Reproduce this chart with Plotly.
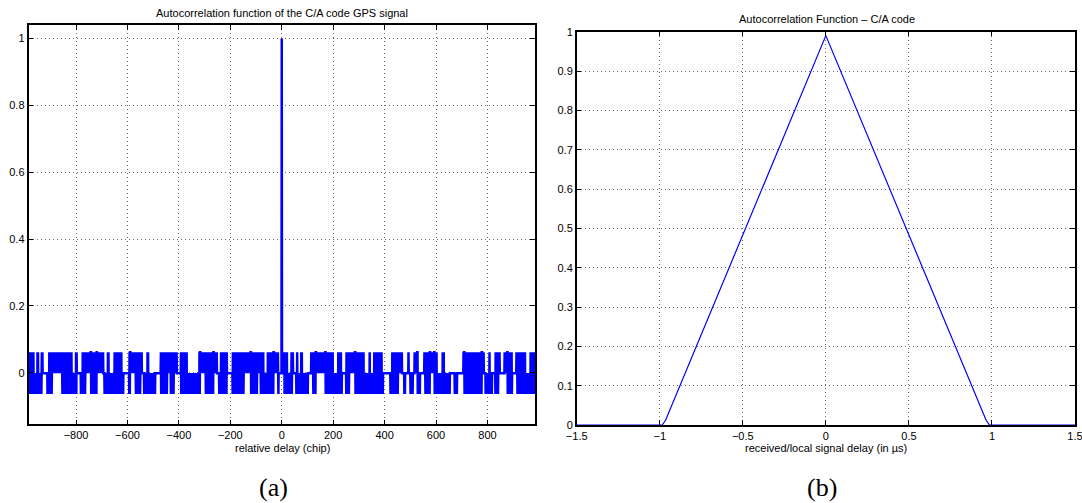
import numpy as np
import plotly.graph_objects as go

# ---------------- (a) C/A code autocorrelation vs. relative delay ----------------
CODE_LEN = 1023
LEVEL_HIGH = 63      # side-lobe levels of a Gold code, in chips
LEVEL_MID = -1
LEVEL_LOW = -65

delay_min, delay_max = -985, 985

# chip spans in which the +63 side lobe shows up
high_starts = [-987, -950, -933, -904, -800, -775, -677, -651, -593, -522, -470, -392, -321, -236, -191, -55,
               10, 37, 59, 76, 115, 220, 251, 341, 360, 430, 493, 516, 555, 625, 651, 707, 808, 831, 866, 912, 967]
high_ends = [-966, -947, -931, -817, -798, -694, -674, -623, -545, -519, -409, -370, -253, -214, -71, -14,
             20, 43, 60, 78, 198, 230, 319, 342, 389, 467, 494, 529, 603, 630, 651, 786, 809, 848, 895, 946, 986]

# chip spans in which the -65 side lobe shows up
low_starts = [-987, -911, -853, -781, -742, -690, -593, -567, -535, -470, -431, -392, -295, -243, -191, -120, -81, -13,
              10, 57, 123, 170, 251, 286, 423, 477, 500, 528, 559, 594, 672, 710, 792, 831, 878, 917]
low_ends = [-934, -895, -798, -765, -720, -616, -590, -551, -493, -447, -421, -318, -266, -214, -149, -97, -32, -12,
            39, 101, 132, 233, 261, 393, 451, 479, 510, 537, 576, 654, 681, 778, 817, 841, 895, 986]

chips = np.arange(delay_min, delay_max + 1)
has_high = np.zeros(chips.size, dtype=bool)
has_low = np.zeros(chips.size, dtype=bool)
for a, b in zip(high_starts, high_ends):
    has_high |= (chips >= a) & (chips <= b)
for a, b in zip(low_starts, low_ends):
    has_low |= (chips >= a) & (chips <= b)

odd = (chips % 2) != 0
acf = np.full(chips.size, LEVEL_MID, dtype=float)
both = has_high & has_low
acf[both & ~odd] = LEVEL_HIGH
acf[both & odd] = LEVEL_LOW
acf[has_high & ~has_low & odd] = LEVEL_HIGH
acf[has_low & ~has_high & odd] = LEVEL_LOW
acf[chips == 0] = CODE_LEN
acf_norm = acf / CODE_LEN

# ---------------- (b) correlation triangle vs. signal delay ----------------
delay_us = [-1.5, -0.985, -0.965, 0.0, 0.965, 0.985, 1.5]
corr_b = [0.0, 0.0, 0.012, 0.99, 0.012, 0.0, 0.0]

BLUE = "#0000ff"
SANS = "Liberation Sans, Arial, sans-serif"
SERIF = "Liberation Serif, Times New Roman, serif"
W, H = 1082, 503

fig = go.Figure()
fig.add_trace(go.Scatter(x=chips, y=acf_norm, mode="lines",
                         line=dict(color=BLUE, width=2.5, simplify=False), xaxis="x", yaxis="y",
                         showlegend=False, hoverinfo="skip"))
fig.add_trace(go.Scatter(x=delay_us, y=corr_b, mode="lines",
                         line=dict(color=BLUE, width=1.2), xaxis="x2", yaxis="y2",
                         showlegend=False, hoverinfo="skip"))

common = dict(showline=True, linecolor="black", linewidth=1.5, mirror="ticks",
              ticks="inside", ticklen=5, tickcolor="black", tickwidth=1,
              showgrid=True, gridcolor="#6a6a6a", gridwidth=1, griddash="1px,3px",
              zeroline=False, automargin=False, ticklabeloverflow="allow",
              tickfont=dict(family=SANS, size=11, color="black"))

fig.update_layout(
    width=W, height=H,
    margin=dict(l=0, r=0, t=0, b=0, autoexpand=False),
    paper_bgcolor="white", plot_bgcolor="white",
    xaxis=dict(domain=[28.5 / W, 535 / W], range=[-985, 985], tickmode="linear",
               tick0=-800, dtick=200, anchor="y", **common),
    yaxis=dict(domain=[1 - 424.3 / H, 1 - 25 / H], range=[-0.154, 1.04], tickmode="linear",
               tick0=0, dtick=0.2, anchor="x", **common),
    xaxis2=dict(domain=[576.7 / W, 1075 / W], range=[-1.5, 1.5], tickmode="linear",
                tick0=-1.5, dtick=0.5, anchor="y2", **common),
    yaxis2=dict(domain=[1 - 425 / H, 1 - 31.7 / H], range=[0, 1], tickmode="linear",
                tick0=0, dtick=0.1, anchor="x2", **common),
)


def label(text, x, y, size=11, family=SANS):
    fig.add_annotation(text=text, x=x / W, y=1 - y / H, xref="paper", yref="paper",
                       showarrow=False, xanchor="center", yanchor="middle",
                       font=dict(family=family, size=size, color="black"))


label("Autocorrelation function of the C/A code GPS signal", 282, 13)
label("relative delay (chip)", 282, 448)
label("Autocorrelation Function \u2013 C/A code", 827, 19)
label("received/local signal delay (in \u00b5s)", 826, 448)
label("(a)", 273, 487, size=26, family=SERIF)
label("(b)", 822, 487, size=26, family=SERIF)

fig.write_html("out.html")
